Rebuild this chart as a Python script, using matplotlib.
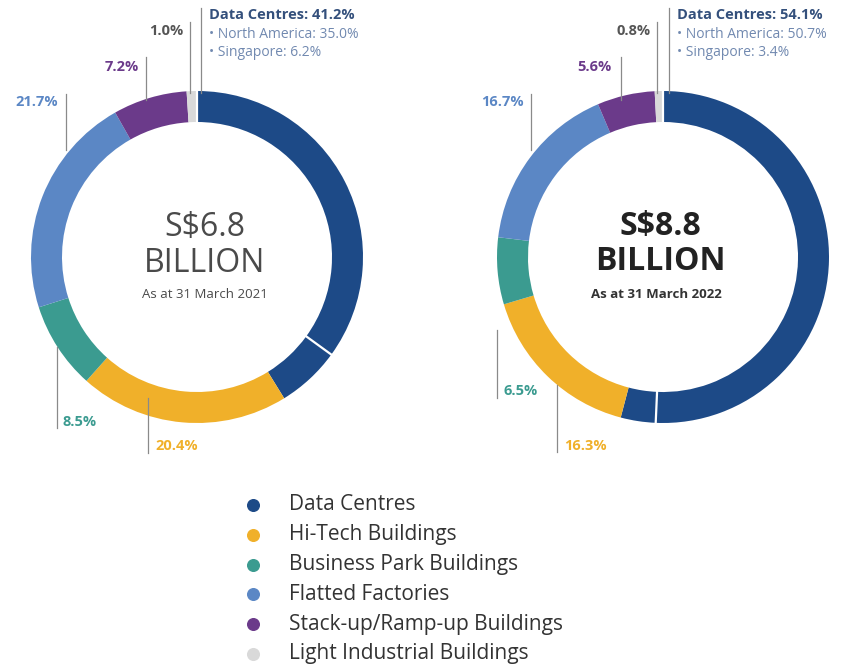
import numpy as np
import matplotlib.pyplot as plt

plt.rcParams['font.family'] = ['Open Sans', 'DejaVu Sans']

# categories and values (percent of portfolio)
categories = ['Data Centres', 'Hi-Tech Buildings', 'Business Park Buildings',
              'Flatted Factories', 'Stack-up/Ramp-up Buildings', 'Light Industrial Buildings']
colors = ['#1d4a87', '#f0b02a', '#3b9b90', '#5b87c5', '#6b3a8a', '#d9d9d9']

na_2021, sg_2021 = 35.0, 6.2
other_2021 = [20.4, 8.5, 21.7, 7.2, 1.0]
na_2022, sg_2022 = 50.7, 3.4
other_2022 = [16.3, 6.5, 16.7, 5.6, 0.8]

W, H = 857, 664
fig = plt.figure(figsize=(W / 100, H / 100), dpi=100)
ax = fig.add_axes([0, 0, 1, 1])


def Y(y):
    return H - y


R, RW = 166, 31
GRAY = '#8a8a8a'


def donut(cx, cy, na, sg, others):
    vals = [na, sg] + others
    cols = [colors[0], colors[0]] + colors[1:]
    ax.pie(vals, colors=cols, startangle=90, counterclock=False,
           center=(cx, Y(cy)), radius=R,
           wedgeprops=dict(width=RW, linewidth=0))
    # white separators: top start and NA/Singapore split
    for frac in [0.0, na / sum(vals)]:
        a = np.deg2rad(90 - 360 * frac)
        ax.plot([cx + (R - RW - 1) * np.cos(a), cx + (R + 1) * np.cos(a)],
                [Y(cy) + (R - RW - 1) * np.sin(a), Y(cy) + (R + 1) * np.sin(a)],
                color='white', lw=1.6, zorder=5)


donut(197, 257, na_2021, sg_2021, other_2021)
donut(663, 257, na_2022, sg_2022, other_2022)


def leader(x, y0, y1):
    ax.plot([x, x], [Y(y0), Y(y1)], color=GRAY, lw=0.9, zorder=1)


def lab(x, y, s, c, ha):
    ax.text(x, Y(y), s, color=c, ha=ha, va='center', fontsize=10.5, fontweight='bold')


def dc_block(x_line, total, na, sg):
    leader(x_line, 8, 93)
    x = x_line + 8
    ax.text(x, Y(15), f'Data Centres: {total:.1f}%', color='#34507c',
            fontsize=10.5, fontweight='bold', ha='left', va='center')
    ax.text(x, Y(34), f'• North America: {na:.1f}%', color='#7189b0',
            fontsize=10, ha='left', va='center')
    ax.text(x, Y(52), f'• Singapore: {sg:.1f}%', color='#7189b0',
            fontsize=10, ha='left', va='center')


# left donut labels
dc_block(201, na_2021 + sg_2021, na_2021, sg_2021)
leader(190, 22, 93); lab(183, 31, f'{other_2021[4]:.1f}%', '#555555', 'right')
leader(146, 57, 100); lab(139, 67, f'{other_2021[3]:.1f}%', colors[4], 'right')
leader(66, 94, 150); lab(58, 102, f'{other_2021[2]:.1f}%', colors[3], 'right')
leader(57, 347, 428); lab(63, 422, f'{other_2021[1]:.1f}%', colors[2], 'left')
leader(148, 398, 453); lab(155, 446, f'{other_2021[0]:.1f}%', colors[1], 'left')

# right donut labels
dc_block(669, na_2022 + sg_2022, na_2022, sg_2022)
leader(657, 22, 93); lab(651, 31, f'{other_2022[4]:.1f}%', '#555555', 'right')
leader(621, 57, 100); lab(612, 67, f'{other_2022[3]:.1f}%', colors[4], 'right')
leader(531, 94, 150); lab(524, 102, f'{other_2022[2]:.1f}%', colors[3], 'right')
leader(497, 330, 398); lab(504, 391, f'{other_2022[1]:.1f}%', colors[2], 'left')
leader(557, 385, 452); lab(564, 446, f'{other_2022[0]:.1f}%', colors[1], 'left')

# centre text
ax.text(205, Y(228), 'S$6.8', fontsize=23, color='#4a4a4a', ha='center', va='center')
ax.text(205, Y(263), 'BILLION', fontsize=23, color='#4a4a4a', ha='center', va='center')
ax.text(205, Y(295), 'As at 31 March 2021', fontsize=9.5, color='#4a4a4a',
        ha='center', va='center')
ax.text(660, Y(227), 'S$8.8', fontsize=23, fontweight='bold', color='#222222',
        ha='center', va='center')
ax.text(660, Y(262), 'BILLION', fontsize=23, fontweight='bold', color='#222222',
        ha='center', va='center')
ax.text(656, Y(294), 'As at 31 March 2022', fontsize=9.5, fontweight='bold',
        color='#333333', ha='center', va='center')

# legend
for i, (name, c) in enumerate(zip(categories, colors)):
    yy = 505 + 29.8 * i
    ax.scatter(253, Y(yy), s=70, color=c, zorder=3)
    ax.text(289, Y(yy), name, fontsize=15, color='#333333', ha='left', va='center')

ax.set_xlim(0, W)
ax.set_ylim(0, H)
ax.set_aspect('equal')
ax.axis('off')

fig.savefig('out.png', dpi=100, facecolor='white')
